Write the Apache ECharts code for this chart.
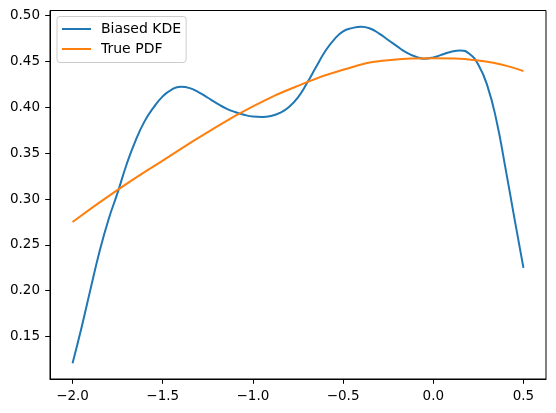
<!DOCTYPE html>
<html>
<head>
<meta charset="utf-8">
<script src="https://cdn.jsdelivr.net/npm/echarts@6/dist/echarts.min.js"></script>
<style>html,body{margin:0;padding:0;background:#fff}#c{width:556px;height:413px}</style>
</head>
<body>
<div id="c"></div>
<script>
const kdeX = [-2.0,-1.95,-1.9,-1.85,-1.8,-1.75,-1.7,-1.65,-1.6,-1.55,-1.5,-1.45,-1.4,-1.35,-1.3,-1.25,-1.2,-1.15,-1.1,-1.05,-1.0,-0.95,-0.9,-0.85,-0.8,-0.75,-0.7,-0.65,-0.6,-0.55,-0.5,-0.45,-0.4,-0.35,-0.3,-0.25,-0.2,-0.15,-0.1,-0.05,0.0,0.05,0.1,0.15,0.2,0.25,0.3,0.35,0.4,0.45,0.5];
const kdeY = [0.121,0.160,0.202,0.243,0.278,0.307,0.338,0.364,0.385,0.400,0.412,0.4195,0.4225,0.421,0.4165,0.4105,0.4045,0.399,0.395,0.392,0.390,0.3895,0.3905,0.394,0.4005,0.411,0.4265,0.444,0.461,0.474,0.483,0.4865,0.488,0.486,0.4805,0.4735,0.4665,0.460,0.4555,0.4532,0.4545,0.4577,0.4608,0.4622,0.4585,0.4465,0.4235,0.386,0.334,0.279,0.225];
const pdfX = [-2.0,-1.75,-1.5,-1.25,-1.0,-0.75,-0.5,-0.25,0.0,0.25,0.5];
const pdfY = [0.275,0.310,0.342,0.373,0.401,0.4235,0.441,0.4513,0.4535,0.4512,0.4395];
const xTicks = [-2.0,-1.5,-1.0,-0.5,0.0,0.5];
const xTickLabels = ['\u22122.0','\u22121.5','\u22121.0','\u22120.5','0.0','0.5'];
const yTicks = [0.15,0.20,0.25,0.30,0.35,0.40,0.45,0.50];
const yTickLabels = ['0.15','0.20','0.25','0.30','0.35','0.40','0.45','0.50'];
const seriesNames = ['Biased KDE','True PDF'];

const font = 'DejaVu Sans';
const chart = echarts.init(document.getElementById('c'), null, {renderer:'canvas'});
function lab(ticks, labels){ return v => { for (let i=0;i<ticks.length;i++){ if (Math.abs(ticks[i]-v)<1e-9) return labels[i]; } return ''; }; }
chart.setOption({
  animation:false,
  grid:{left:50,top:10.5,width:496,height:368.5,show:true,borderColor:'#000',borderWidth:1,backgroundColor:'transparent'},
  xAxis:{type:'value',min:-2.125,max:0.625,splitLine:{show:false},
    axisLine:{show:true,onZero:false,lineStyle:{color:'#000',width:1}},
    axisTick:{show:true,length:4.8,lineStyle:{color:'#000',width:1},customValues:xTicks},
    axisLabel:{customValues:xTicks,formatter:lab(xTicks,xTickLabels),color:'#000',fontSize:13.5,fontFamily:font,margin:10}},
  yAxis:{type:'value',min:0.1037,max:0.5057,splitLine:{show:false},
    axisLine:{show:true,onZero:false,lineStyle:{color:'#000',width:1}},
    axisTick:{show:true,length:4.8,lineStyle:{color:'#000',width:1},customValues:yTicks},
    axisLabel:{customValues:yTicks,formatter:lab(yTicks,yTickLabels),color:'#000',fontSize:13.5,fontFamily:font,margin:10}},
  legend:{show:true,orient:'vertical',left:57,top:16.5,itemWidth:29,itemHeight:2,itemGap:6,icon:'rect',
    padding:[5.5,5,6.5,5],backgroundColor:'rgba(255,255,255,0.8)',borderColor:'#cccccc',borderWidth:1,borderRadius:3,
    textStyle:{fontFamily:font,fontSize:14,color:'#000',padding:[0,0,0,5],lineHeight:14},
    data:seriesNames},
  series:[
    {name:seriesNames[0],type:'line',data:kdeX.map((x,i)=>[x,kdeY[i]]),smooth:0.5,symbol:'none',lineStyle:{color:'#1f77b4',width:2},itemStyle:{color:'#1f77b4'}},
    {name:seriesNames[1],type:'line',data:pdfX.map((x,i)=>[x,pdfY[i]]),smooth:0.5,symbol:'none',lineStyle:{color:'#ff7f0e',width:2},itemStyle:{color:'#ff7f0e'}}
  ]
});
</script>
</body>
</html>
